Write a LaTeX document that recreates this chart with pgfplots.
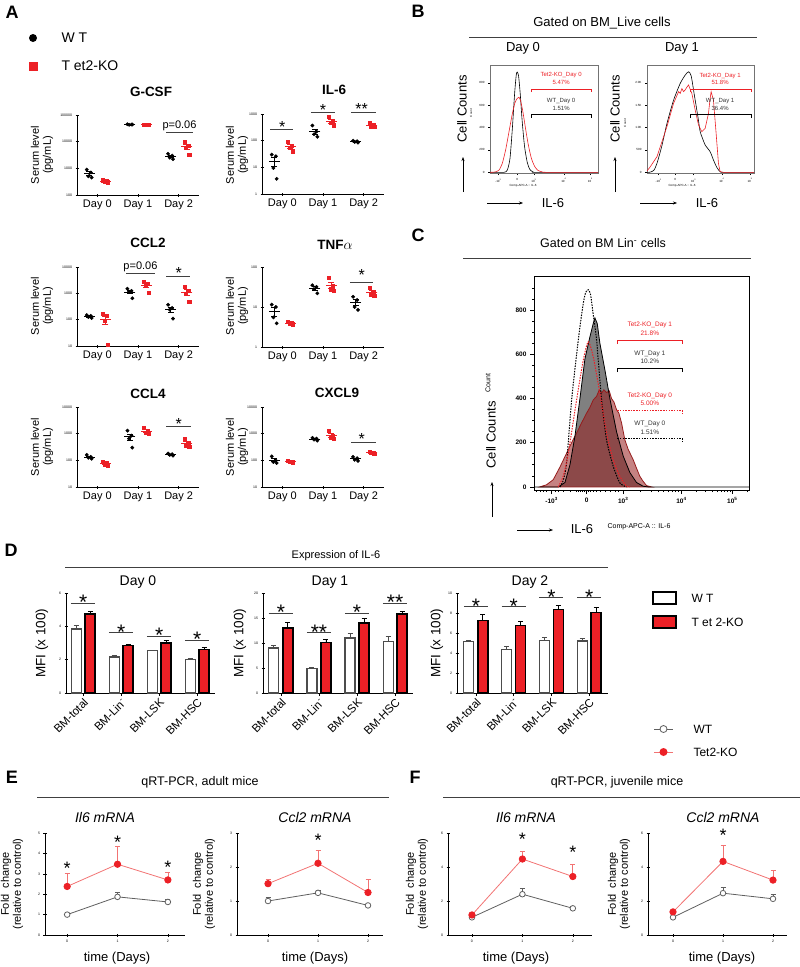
\documentclass[border=0pt]{standalone}
\usepackage{fontspec}
\setmainfont{Liberation Sans}
\usepackage{pgfplots}
\pgfplotsset{compat=1.18}
\usetikzlibrary{arrows.meta}
\definecolor{kred}{RGB}{236,32,38}
\definecolor{lred}{RGB}{242,115,115}
\definecolor{dred}{RGB}{150,28,28}
\definecolor{wgray}{RGB}{95,95,95}
\definecolor{fgray}{RGB}{128,128,128}
\newcommand{\fs}[1]{\fontsize{#1}{#1}\selectfont}
\newcommand{\fsl}[2]{\fontsize{#1}{#2}\selectfont}
\tikzset{st/.style={font=\fs{16}, anchor=base, yshift=-9.3pt, inner sep=0pt},
         stD/.style={font=\fs{21}, anchor=base, yshift=-12.2pt, inner sep=0pt},
         stE/.style={font=\fs{18}, anchor=base, yshift=-10.4pt, inner sep=0pt}}
% axis wrappers
\newenvironment{Aaxis}[1]{\begin{axis}[scale only axis, clip=false, /pgf/number format/assume math mode=true, /pgf/number format/1000 sep={}, tick align=outside, major tick length=3pt, width=122pt, height=80pt, ymode=log, xmin=-0.5, xmax=2.5, axis x line=bottom, axis y line=left, axis line style={line width=0.7pt,-}, xtick={0,1,2}, xticklabels={Day 0,Day 1,Day 2}, xticklabel style={font=\fs{11}}, yticklabel style={font=\fs{3.5}}, yminorticks=false, log ticks with fixed point, tick style={line width=0.6pt, black}, #1]}{\end{axis}}
\newenvironment{Daxis}[1]{\begin{axis}[scale only axis, clip=false, /pgf/number format/assume math mode=true, tick align=outside, major tick length=3pt, height=100pt, axis x line=bottom, axis y line=left, axis line style={line width=0.7pt,-}, ymin=0, xtick={0,1,2,3}, xticklabels={BM-total,BM-Lin\textsuperscript{-},BM-LSK,BM-HSC}, xticklabel style={rotate=45, anchor=north east, font=\fs{11.5}, inner sep=1pt}, yticklabel style={font=\fs{3.5}}, ybar, bar width=10pt, tick style={line width=0.6pt, black}, #1]}{\end{axis}}
\newenvironment{Eaxis}[1]{\begin{axis}[scale only axis, clip=false, /pgf/number format/assume math mode=true, tick align=outside, major tick length=3pt, height=102pt, axis x line=bottom, axis y line=left, axis line style={line width=0.7pt,-}, ymin=0, xtick={0,1,2}, tick label style={font=\fs{3.5}}, tick style={line width=0.6pt, black}, #1]}{\end{axis}}
\newenvironment{Baxis}[1]{\begin{axis}[scale only axis, clip=false, /pgf/number format/assume math mode=true, /pgf/number format/1000 sep={}, tick align=outside, height=108pt, axis line style={black!55, line width=0.4pt}, tick pos=left, major tick length=2pt, tick label style={font=\fs{3}}, tick style={black, line width=0.4pt}, #1]}{\end{axis}}
% plot macros
\newcommand{\wtpts}[1]{\addplot[only marks, mark=*, mark size=1.7pt, black] coordinates {#1};}
\newcommand{\kopts}[1]{\addplot[only marks, mark=square*, mark size=1.6pt, kred] coordinates {#1};}
\newcommand{\wtmean}[1]{\addplot[only marks, mark=-, mark size=5.5pt, black, mark options={line width=0.7pt}, error bars/.cd, y dir=both, y explicit, error bar style={line width=0.7pt, black}, error mark options={rotate=90, mark size=3pt, line width=0.7pt, black}] coordinates {#1};}
\newcommand{\komean}[1]{\addplot[only marks, mark=-, mark size=5.5pt, kred, mark options={line width=0.7pt}, error bars/.cd, y dir=both, y explicit, error bar style={line width=0.7pt, kred}, error mark options={rotate=90, mark size=3pt, line width=0.7pt, kred}] coordinates {#1};}
\newcommand{\wtbar}[1]{\addplot[bar shift=-7pt, fill=white, draw=black!70, line width=1.1pt, error bars/.cd, y dir=plus, y explicit, error bar style={line width=0.8pt, black!70}, error mark options={rotate=90, mark size=2.5pt, line width=0.8pt, black!70}] coordinates {#1};}
\newcommand{\kobar}[1]{\addplot[bar shift=7pt, fill=kred, draw=black, line width=1.3pt, error bars/.cd, y dir=plus, y explicit, error bar style={line width=0.8pt, black}, error mark options={rotate=90, mark size=2.5pt, line width=0.8pt, black}] coordinates {#1};}
\newcommand{\wtline}[1]{\addplot[wgray, line width=0.8pt, mark=*, mark size=2.8pt, mark options={fill=white, draw=wgray, line width=0.8pt}, error bars/.cd, y dir=plus, y explicit, error bar style={line width=0.7pt, wgray}, error mark options={rotate=90, mark size=2.5pt, line width=0.7pt, wgray}] coordinates {#1};}
\newcommand{\koline}[1]{\addplot[lred, line width=0.8pt, mark=*, mark size=3.2pt, mark options={fill=kred, draw=kred}, error bars/.cd, y dir=plus, y explicit, error bar style={line width=0.7pt, lred}, error mark options={rotate=90, mark size=2.5pt, line width=0.7pt, lred}] coordinates {#1};}
\newcommand{\sig}[3]{\draw[black!75, line width=0.8pt] (axis cs:#1,#3) -- (axis cs:#2,#3);}
\begin{document}
\begin{tikzpicture}
\useasboundingbox (0pt,0pt) rectangle (800pt,-967pt);
% ---------------- A ----------------
\begin{Aaxis}{ymin=100, ymax=100000, at={(77pt,-195pt)}, anchor=south west}
\wtpts{(-0.26,900) (-0.16,700) (-0.22,500) (-0.14,450) (0.74,45000) (0.84,44000) (0.78,43000) (0.86,44000) (1.74,3500) (1.84,3000) (1.78,2500) (1.86,2200)}
\kopts{(0.14,360) (0.24,340) (0.18,320) (0.26,300) (1.14,44500) (1.24,44000) (1.18,43500) (1.26,44000) (2.14,9500) (2.24,7000) (2.18,6000) (2.26,3300)}
\wtmean{(-0.2,637.5) +- (0,103) (0.8,44000) +- (0,408) (1.8,2800) +- (0,286)}
\komean{(0.2,330) +- (0,12.9) (1.2,44000) +- (0,204) (2.2,6450) +- (0,1282)}
\sig{1.7}{2.35}{23070}
\node[font=\fs{11}, anchor=south, inner sep=1.5pt] at (axis cs:2.02,23070) {p=0.06};
\end{Aaxis}
\begin{Aaxis}{ymin=1, ymax=1000, at={(262pt,-194pt)}, anchor=south west}
\wtpts{(-0.26,30) (-0.16,26) (-0.22,9.5) (-0.14,3.7) (0.74,370) (0.84,220) (0.78,175) (0.86,140) (1.74,100) (1.84,95) (1.78,90) (1.86,85)}
\kopts{(0.14,90) (0.24,65) (0.18,55) (0.26,40) (1.14,800) (1.24,560) (1.18,470) (1.26,380) (2.14,480) (2.24,400) (2.18,330) (2.26,340)}
\wtmean{(-0.2,17.3) +- (0,6.3) (0.8,226) +- (0,50.6) (1.8,92.5) +- (0,3.2)}
\komean{(0.2,62.5) +- (0,10.5) (1.2,552) +- (0,90) (2.2,387.5) +- (0,34.5)}
\sig{-0.3}{0.27}{274}
\sig{0.7}{1.3}{1190}
\sig{1.7}{2.3}{1190}
\node[st] at (axis cs:0,460) {*};
\node[st] at (axis cs:1,2000) {*};
\node[st] at (axis cs:1.95,2175) {**};
\end{Aaxis}
\begin{Aaxis}{height=79pt, ymin=10, ymax=10000, at={(77pt,-346pt)}, anchor=south west}
\wtpts{(-0.26,150) (-0.16,140) (-0.22,125) (-0.14,115) (0.74,1500) (0.84,1250) (0.78,1150) (0.86,650) (1.74,370) (1.84,280) (1.78,240) (1.86,110)}
\kopts{(0.14,165) (0.24,140) (0.18,90) (0.26,11) (1.14,2700) (1.24,2400) (1.18,2000) (1.26,1050) (2.14,1750) (2.24,1250) (2.18,1000) (2.26,480)}
\wtmean{(-0.2,132.5) +- (0,7.8) (0.8,1137.5) +- (0,178) (1.8,250) +- (0,54)}
\komean{(0.2,101.5) +- (0,34) (1.2,2037.5) +- (0,359) (2.2,1120) +- (0,264)}
\sig{0.7}{1.43}{5920}
\node[font=\fs{11}, anchor=south, inner sep=1.5pt] at (axis cs:1.06,5920) {p=0.06};
\sig{1.7}{2.28}{4550}
\node[st] at (axis cs:2.0,8400) {*};
\end{Aaxis}
\begin{Aaxis}{ymin=1, ymax=100, at={(262pt,-347pt)}, anchor=south west}
\wtpts{(-0.26,11.5) (-0.16,10) (-0.22,5.5) (-0.14,3.9) (0.74,35) (0.84,32) (0.78,28) (0.86,22) (1.74,18) (1.84,15) (1.78,10) (1.86,8.5)}
\kopts{(0.14,4.2) (0.24,4.0) (0.18,3.8) (0.26,3.7) (1.14,55) (1.24,33) (1.18,28) (1.26,26) (2.14,30) (2.24,24) (2.18,20) (2.26,19)}
\wtmean{(-0.2,7.73) +- (0,1.8) (0.8,29.25) +- (0,2.8) (1.8,12.9) +- (0,2.2)}
\komean{(0.2,3.93) +- (0,0.11) (1.2,35.5) +- (0,6.7) (2.2,23.25) +- (0,2.5)}
\sig{1.66}{2.22}{42}
\node[st] at (axis cs:1.95,79) {*};
\end{Aaxis}
\begin{Aaxis}{ymin=10, ymax=10000, at={(77pt,-487pt)}, anchor=south west}
\wtpts{(-0.26,160) (-0.16,135) (-0.22,125) (-0.14,115) (0.74,1300) (0.84,850) (0.78,650) (0.86,300) (1.74,180) (1.84,170) (1.78,160) (1.86,150)}
\kopts{(0.14,90) (0.24,80) (0.18,70) (0.26,62) (1.14,1700) (1.24,1300) (1.18,1100) (1.26,1000) (2.14,620) (2.24,450) (2.18,370) (2.26,320)}
\wtmean{(-0.2,133.75) +- (0,9.7) (0.8,775) +- (0,209) (1.8,165) +- (0,6.5)}
\komean{(0.2,75.5) +- (0,6.1) (1.2,1275) +- (0,155) (2.2,440) +- (0,66)}
\sig{1.7}{2.3}{1940}
\node[st] at (axis cs:2.0,3250) {*};
\end{Aaxis}
\begin{Aaxis}{ymin=10, ymax=10000, at={(262pt,-487pt)}, anchor=south west}
\wtpts{(-0.26,140) (-0.16,100) (-0.22,87) (-0.14,80) (0.74,700) (0.84,650) (0.78,600) (0.86,550) (1.74,135) (1.84,120) (1.78,105) (1.86,95)}
\kopts{(0.14,95) (0.24,90) (0.18,88) (0.26,85) (1.14,1250) (1.24,850) (1.18,700) (1.26,650) (2.14,215) (2.24,200) (2.18,190) (2.26,180)}
\wtmean{(-0.2,101.75) +- (0,13.4) (0.8,625) +- (0,32) (1.8,113.75) +- (0,8.7)}
\komean{(0.2,89.5) +- (0,2.1) (1.2,862.5) +- (0,136) (2.2,196.25) +- (0,7.5)}
\sig{1.7}{2.3}{488}
\node[st] at (axis cs:1.95,890) {*};
\end{Aaxis}
% ---------------- B ----------------
\begin{Baxis}{width=108pt, xmin=-82, xmax=243, ymin=-6, ymax=958, ytick={0,200,400,600,800}, xtick={-57,0,50,140,220}, xticklabels={-10\textsuperscript{3},0,10\textsuperscript{3},10\textsuperscript{4},10\textsuperscript{5}}, at={(490pt,-173pt)}, anchor=south west}
\addplot[black, line width=0.6pt, smooth, tension=0.4] coordinates {(-82,0) (-40,0) (-30,20) (-22,120) (-15,380) (-8,700) (-3,870) (0,895) (4,860) (9,700) (15,450) (22,230) (30,90) (38,25) (48,3) (60,0) (243,0)};
\addplot[kred, line width=0.6pt, smooth, tension=0.4] coordinates {(-82,0) (-67,3) (-55,20) (-45,80) (-35,200) (-25,360) (-15,520) (-7,620) (0,660) (5,670) (10,640) (17,540) (25,390) (33,250) (42,130) (52,55) (62,18) (75,4) (90,0) (243,0)};
\draw[kred, line width=0.8pt] (axis cs:42,717) -- (axis cs:42,744) -- (axis cs:222,744) -- (axis cs:222,717);
\draw[black, line width=0.8pt] (axis cs:42,485) -- (axis cs:42,520) -- (axis cs:222,520) -- (axis cs:222,485);
\node[kred, align=center, font=\fsl{6}{7.2}] at (axis cs:132,838) {Tet2-KO\_Day 0\\5.47\%};
\node[black!80, align=center, font=\fsl{6}{7.2}] at (axis cs:132,606) {WT\_Day 0\\1.51\%};
\end{Baxis}
\begin{Baxis}{width=107pt, xmin=-85, xmax=237, ymin=-15, ymax=2395, ytick={0,500,1000,1500,2000}, yticklabels={0,500,1.0K,1.5K,2.0K}, xtick={-50,0,55,140,225}, xticklabels={-10\textsuperscript{3},0,10\textsuperscript{3},10\textsuperscript{4},10\textsuperscript{5}}, at={(647pt,-173pt)}, anchor=south west}
\addplot[black, line width=0.6pt, smooth, tension=0.4] coordinates {(-85,0) (-78,0) (-65,40) (-55,200) (-40,600) (-25,1090) (-5,1610) (15,1985) (30,2170) (40,2245) (48,2150) (58,1700) (68,1250) (75,907) (82,760) (90,610) (105,460) (115,275) (125,110) (135,15) (145,0) (237,0)};
\addplot[kred, line width=0.6pt] coordinates {(-85,30) (-75,126) (-55,350) (-25,1020) (-5,1540) (10,1800) (15,1760) (20,1870) (25,1800) (30,1840) (35,1900) (40,1950) (45,1850) (50,1760) (60,1390) (70,1055) (80,907) (90,980) (100,1315) (105,1650) (108,1800) (115,1610) (123,870) (130,200) (135,15) (145,0) (237,0)};
\draw[kred, line width=0.8pt] (axis cs:45,1790) -- (axis cs:45,1860) -- (axis cs:228,1860) -- (axis cs:228,1790);
\draw[black, line width=0.8pt] (axis cs:45,1210) -- (axis cs:45,1300) -- (axis cs:228,1300) -- (axis cs:228,1210);
\node[kred, align=center, font=\fsl{6}{7.2}] at (axis cs:135,2093) {Tet2-KO\_Day 1\\51.8\%};
\node[black!80, align=center, font=\fsl{6}{7.2}] at (axis cs:135,1513) {WT\_Day 1\\36.4\%};
\end{Baxis}
% ---------------- C ----------------
\begin{axis}[scale only axis, clip=false, /pgf/number format/assume math mode=true, tick align=outside, width=215pt, height=214pt, axis line style={black, line width=0.8pt}, tick pos=left, major tick length=4pt, minor tick length=2pt, tick label style={font=\bfseries\fs{6.5}}, xmin=-158, xmax=488, ymin=-14, ymax=955, ytick={0,200,400,600,800}, minor ytick={50,100,150,250,300,350,450,500,550,650,700,750,850,900}, xtick={-105,0,110,285,438}, xticklabels={-10\textsuperscript{3},0,10\textsuperscript{3},10\textsuperscript{4},10\textsuperscript{5}}, minor xtick={-150,-140,-130,-120,-95,-85,-70,-50,-30,-24,-18,-12,-6,6,12,20,30,42,55,70,85,95,163,194,215,232,246,258,268,277,331,358,377,392,404,414,423,431,484}, tick style={black, line width=0.7pt}, at={(534pt,-490pt)}, anchor=south west]
\addplot[draw=none, fill=fgray] coordinates {(-85,0) (-65,20) (-50,100) (-35,230) (-20,400) (-5,580) (10,680) (20,740) (25,765) (32,740) (40,650) (55,530) (70,400) (90,250) (110,140) (130,65) (150,20) (170,3) (185,0)} \closedcycle;
\addplot[draw=dred, line width=0.8pt, fill=dred, fill opacity=0.55] coordinates {(-140,0) (-120,10) (-100,33) (-80,90) (-60,153) (-45,200) (-30,244) (-15,290) (0,334) (10,360) (20,394) (30,410) (38,440) (45,425) (52,440) (60,427) (68,435) (75,400) (82,385) (90,350) (97,334) (105,290) (115,213) (125,170) (140,123) (150,85) (160,48) (170,25) (180,6) (195,0)} \closedcycle;
\addplot[black, line width=0.8pt] coordinates {(-158,0) (-85,0) (-65,20) (-50,100) (-35,230) (-20,400) (-5,580) (10,680) (20,740) (25,765) (32,740) (40,650) (55,530) (70,400) (90,250) (110,140) (130,65) (150,20) (170,3) (185,0) (488,0)};
\addplot[black, line width=1pt, dash pattern=on 1.5pt off 1.2pt, smooth, tension=0.4] coordinates {(-80,0) (-70,30) (-60,110) (-45,394) (-30,600) (-20,725) (-10,830) (-3,880) (5,893) (12,870) (20,780) (30,665) (45,394) (60,213) (80,93) (100,18) (120,0)};
\addplot[kred, line width=1pt, dash pattern=on 1.5pt off 1.2pt, smooth, tension=0.4] coordinates {(-85,0) (-70,50) (-55,153) (-30,394) (-10,574) (5,657) (20,589) (40,424) (60,244) (80,123) (100,48) (120,3) (130,0)};
\draw[kred, line width=0.8pt] (axis cs:92,647) -- (axis cs:92,665) -- (axis cs:288,665) -- (axis cs:288,647);
\draw[black, line width=0.8pt] (axis cs:92,520) -- (axis cs:92,538) -- (axis cs:288,538) -- (axis cs:288,520);
\draw[kred, line width=1pt, dash pattern=on 1.5pt off 1.2pt] (axis cs:92,344) -- (axis cs:288,344) -- (axis cs:288,330);
\draw[black, line width=1pt, dash pattern=on 1.5pt off 1.2pt] (axis cs:92,217) -- (axis cs:288,217) -- (axis cs:288,203);
\node[kred, align=center, font=\fsl{6.5}{8.5}] at (axis cs:190,717) {Tet2-KO\_Day 1\\21.8\%};
\node[black!80, align=center, font=\fsl{6.5}{8.5}] at (axis cs:190,586) {WT\_Day 1\\10.2\%};
\node[kred, align=center, font=\fsl{6.5}{8.5}] at (axis cs:190,398) {Tet2-KO\_Day 0\\5.00\%};
\node[black!80, align=center, font=\fsl{6.5}{8.5}] at (axis cs:190,267) {WT\_Day 0\\1.51\%};
\end{axis}
% ---------------- D ----------------
\begin{Daxis}{width=149pt, xmin=-0.45, xmax=3.47, ymax=6, ytick={0,2,4,6}, at={(66pt,-693pt)}, anchor=south west}
\wtbar{(0,3.84) +- (0,0.2) (1,2.16) +- (0,0.08) (2,2.54) +- (0,0.02) (3,2.0) +- (0,0.08)}
\kobar{(0,4.74) +- (0,0.16) (1,2.86) +- (0,0.05) (2,3.0) +- (0,0.14) (3,2.6) +- (0,0.16)}
\sig{-0.32}{0.32}{5.4}
\sig{0.68}{1.32}{3.66}
\sig{1.68}{2.32}{3.42}
\sig{2.68}{3.32}{3.18}
\node[stD] at (axis cs:0,5.76) {*};
\node[stD] at (axis cs:1,3.96) {*};
\node[stD] at (axis cs:2,3.78) {*};
\node[stD] at (axis cs:3,3.54) {*};
\end{Daxis}
\begin{Daxis}{width=150pt, xmin=-0.47, xmax=3.47, ymax=20, ytick={0,5,10,15,20}, at={(263pt,-693pt)}, anchor=south west}
\wtbar{(0,9.0) +- (0,0.47) (1,4.93) +- (0,0.2) (2,11.0) +- (0,0.87) (3,10.33) +- (0,1.0)}
\kobar{(0,13.0) +- (0,1.13) (1,10.13) +- (0,0.53) (2,14.0) +- (0,1.0) (3,15.8) +- (0,0.53)}
\sig{-0.32}{0.32}{16}
\sig{0.68}{1.32}{12.2}
\sig{1.68}{2.32}{16}
\sig{2.68}{3.32}{18}
\node[stD] at (axis cs:0,17.2) {*};
\node[stD] at (axis cs:1,13.2) {**};
\node[stD] at (axis cs:2,17.2) {*};
\node[stD] at (axis cs:3,19.2) {**};
\end{Daxis}
\begin{Daxis}{width=151pt, xmin=-0.5, xmax=3.5, ymax=10, ytick={0,2,4,6,8,10}, at={(457pt,-693pt)}, anchor=south west}
\wtbar{(0,5.17) +- (0,0.05) (1,4.33) +- (0,0.33) (2,5.23) +- (0,0.33) (3,5.2) +- (0,0.27)}
\kobar{(0,7.27) +- (0,0.57) (1,6.77) +- (0,0.43) (2,8.33) +- (0,0.43) (3,8.07) +- (0,0.5)}
\sig{-0.32}{0.32}{8.7}
\sig{0.68}{1.32}{8.7}
\sig{1.68}{2.32}{9.6}
\sig{2.68}{3.32}{9.6}
\node[stD] at (axis cs:0,9.2) {*};
\node[stD] at (axis cs:1,9.2) {*};
\node[stD] at (axis cs:2,10.1) {*};
\node[stD] at (axis cs:3,10.1) {*};
\end{Daxis}
% ---------------- E ----------------
\begin{Eaxis}{width=140pt, xmin=-0.44, xmax=2.34, ymax=5, ytick={0,1,2,3,4,5}, at={(45pt,-935pt)}, anchor=south west}
\wtline{(0,1.0) +- (0,0.02) (1,1.87) +- (0,0.24) (2,1.62) +- (0,0.13)}
\koline{(0,2.38) +- (0,0.64) (1,3.47) +- (0,0.89) (2,2.7) +- (0,0.37)}
\node[stE] at (axis cs:0,3.46) {*};
\node[stE] at (axis cs:1,4.74) {*};
\node[stE] at (axis cs:2,3.54) {*};
\end{Eaxis}
\begin{Eaxis}{width=146pt, xmin=-0.62, xmax=2.3, ymax=3, ytick={0,1,2,3}, at={(237pt,-935pt)}, anchor=south west}
\wtline{(0,1.0) +- (0,0.1) (1,1.24) +- (0,0.06) (2,0.87) +- (0,0.01)}
\koline{(0,1.51) +- (0,0.13) (1,2.11) +- (0,0.38) (2,1.25) +- (0,0.4)}
\node[stE] at (axis cs:1,2.92) {*};
\end{Eaxis}
% ---------------- F ----------------
\begin{Eaxis}{width=144pt, xmin=-0.475, xmax=2.38, ymax=6, ytick={0,2,4,6}, at={(448pt,-935pt)}, anchor=south west}
\wtline{(0,1.04) +- (0,0.02) (1,2.4) +- (0,0.36) (2,1.57) +- (0,0.1)}
\koline{(0,1.18) +- (0,0.1) (1,4.47) +- (0,0.43) (2,3.44) +- (0,0.73)}
\node[stE] at (axis cs:1,5.85) {*};
\node[stE] at (axis cs:2,5.12) {*};
\end{Eaxis}
\begin{Eaxis}{width=139pt, xmin=-0.5, xmax=2.28, ymax=6, ytick={0,2,4,6}, at={(648pt,-935pt)}, anchor=south west}
\wtline{(0,1.04) +- (0,0.02) (1,2.46) +- (0,0.35) (2,2.13) +- (0,0.29)}
\koline{(0,1.36) +- (0,0.02) (1,4.33) +- (0,0.95) (2,3.23) +- (0,0.57)}
\node[stE] at (axis cs:1,6.1) {*};
\end{Eaxis}
% ---------------- free text ----------------
\begin{scope}[x=1pt, y=-1pt]
\foreach \l/\px/\py in {A/12/12, B/418/11, C/418/235, D/11/550, E/12/777, F/415/777}
  \node[font=\bfseries\fs{18}] at (\px,\py) {\l};
% A
\fill[black] (33,38) circle (4);
\fill[kred] (28.5,61.5) rectangle (37.5,70.5);
\node[anchor=west, font=\fs{14}] at (58,38) {W T};
\node[anchor=west, font=\fs{14}] at (58,66) {T et2-KO};
\foreach \t/\px/\py in {G-CSF/151/92, IL-6/334/90, CCL2/148/243, TNF$\alpha$/335/245, CCL4/148/394, CXCL9/337/393}
  \node[font=\bfseries\fs{13.5}] at (\px,\py) {\t};
\foreach \px/\py in {42/155, 237/155, 42/306, 237/306, 42/447, 237/447}
  \node[rotate=90, align=center, font=\fsl{11}{12}] at (\px,\py) {Serum level\\(pg/mL)};
% B
\node[font=\fs{13}] at (602,23) {Gated on BM\_Live cells};
\draw[line width=0.6pt, black!75] (469,37) -- (757,37);
\node[font=\fs{13}] at (523,48) {Day 0};
\node[font=\fs{13}] at (682,48) {Day 1};
\node[rotate=90, font=\fs{13}] at (462,109) {Cell Counts};
\node[rotate=90, font=\fs{3}] at (471,113) {Count};
\node[rotate=90, font=\fs{13}] at (615,109) {Cell Counts};
\node[rotate=90, font=\fs{3}] at (625,123) {Count};
\draw[-{Stealth[length=4pt,width=3pt]}, line width=0.5pt] (463,192) -- (463,157);
\draw[-{Stealth[length=4pt,width=3pt]}, line width=0.5pt] (615,192) -- (615,157);
\draw[-{Stealth[length=4pt,width=3pt]}, line width=0.5pt] (487,203) -- (523,203);
\draw[-{Stealth[length=4pt,width=3pt]}, line width=0.5pt] (640,203) -- (677,203);
\node[font=\fs{13}] at (553,203) {IL-6};
\node[font=\fs{13}] at (707,203) {IL-6};
\node[font=\fs{3}] at (523,186) {Comp-APC-A :: IL-6};
\node[font=\fs{3}] at (682,186) {Comp-APC-A :: IL-6};
% C
\node[font=\fs{12.5}] at (603,243) {Gated on BM Lin\textsuperscript{-} cells};
\draw[line width=0.6pt, black!75] (463,258) -- (751,258);
\node[rotate=90, font=\fs{13}] at (491,435) {Cell Counts};
\node[rotate=90, font=\fs{7}] at (488,383) {Count};
\draw[-{Stealth[length=4pt,width=3pt]}, line width=0.5pt] (492,517) -- (492,482);
\draw[-{Stealth[length=4pt,width=3pt]}, line width=0.5pt] (517,530) -- (553,530);
\node[font=\fs{13}] at (582,529) {IL-6};
\node[font=\fs{7}] at (639,527) {Comp-APC-A :: IL-6};
% D
\node[font=\fs{11}] at (336,556) {Expression of IL-6};
\draw[line width=0.6pt, black!75] (65,567) -- (608,567);
\node[font=\fs{14}] at (138,582) {Day 0};
\node[font=\fs{14}] at (330,582) {Day 1};
\node[font=\fs{14}] at (530,582) {Day 2};
\node[rotate=90, font=\fs{13.5}] at (42,643) {MFI (x 100)};
\node[rotate=90, font=\fs{13.5}] at (240,643) {MFI (x 100)};
\node[rotate=90, font=\fs{13.5}] at (437,643) {MFI (x 100)};
\draw[line width=1.5pt, fill=white] (653,592) rectangle (676,604);
\draw[line width=1.5pt, fill=kred] (653,616) rectangle (676,628);
\node[anchor=west, font=\fs{12}] at (688,598) {W T};
\node[anchor=west, font=\fs{12}] at (688,622) {T et 2-KO};
% E / F legend
\draw[wgray, line width=0.8pt] (654,729) -- (673,729);
\draw[wgray, line width=0.8pt, fill=white] (663.5,729) circle (3.5);
\draw[lred, line width=0.8pt] (654,752) -- (673,752);
\fill[kred] (663.5,752) circle (4);
\node[anchor=west, font=\fs{12}] at (690,729) {WT};
\node[anchor=west, font=\fs{12}] at (690,752) {Tet2-KO};
% E
\node[font=\fs{12.5}] at (200,782) {qRT-PCR, adult mice};
\draw[line width=0.6pt, black!75] (37,797) -- (389,797);
\node[font=\itshape\fs{14}] at (105,817) {Il6 mRNA};
\node[font=\itshape\fs{14}] at (315,817) {Ccl2 mRNA};
\node[font=\fs{13}] at (117,958) {time (Days)};
\node[font=\fs{13}] at (315,958) {time (Days)};
\node[rotate=90, align=center, font=\fsl{11}{12}] at (12,884) {Fold\ \ change\\(relative to control)};
\node[rotate=90, align=center, font=\fsl{11}{12}] at (204,884) {Fold\ \ change\\(relative to control)};
% F
\node[font=\fs{12.5}] at (617,782) {qRT-PCR, juvenile mice};
\draw[line width=0.6pt, black!75] (443,797) -- (800,797);
\node[font=\itshape\fs{14}] at (526,817) {Il6 mRNA};
\node[font=\itshape\fs{14}] at (723,817) {Ccl2 mRNA};
\node[font=\fs{13}] at (516,958) {time (Days)};
\node[font=\fs{13}] at (722,958) {time (Days)};
\node[rotate=90, align=center, font=\fsl{11}{12}] at (417,884) {Fold\ \ change\\(relative to control)};
\node[rotate=90, align=center, font=\fsl{11}{12}] at (619,884) {Fold\ \ change\\(relative to control)};
\end{scope}
\end{tikzpicture}
\end{document}
